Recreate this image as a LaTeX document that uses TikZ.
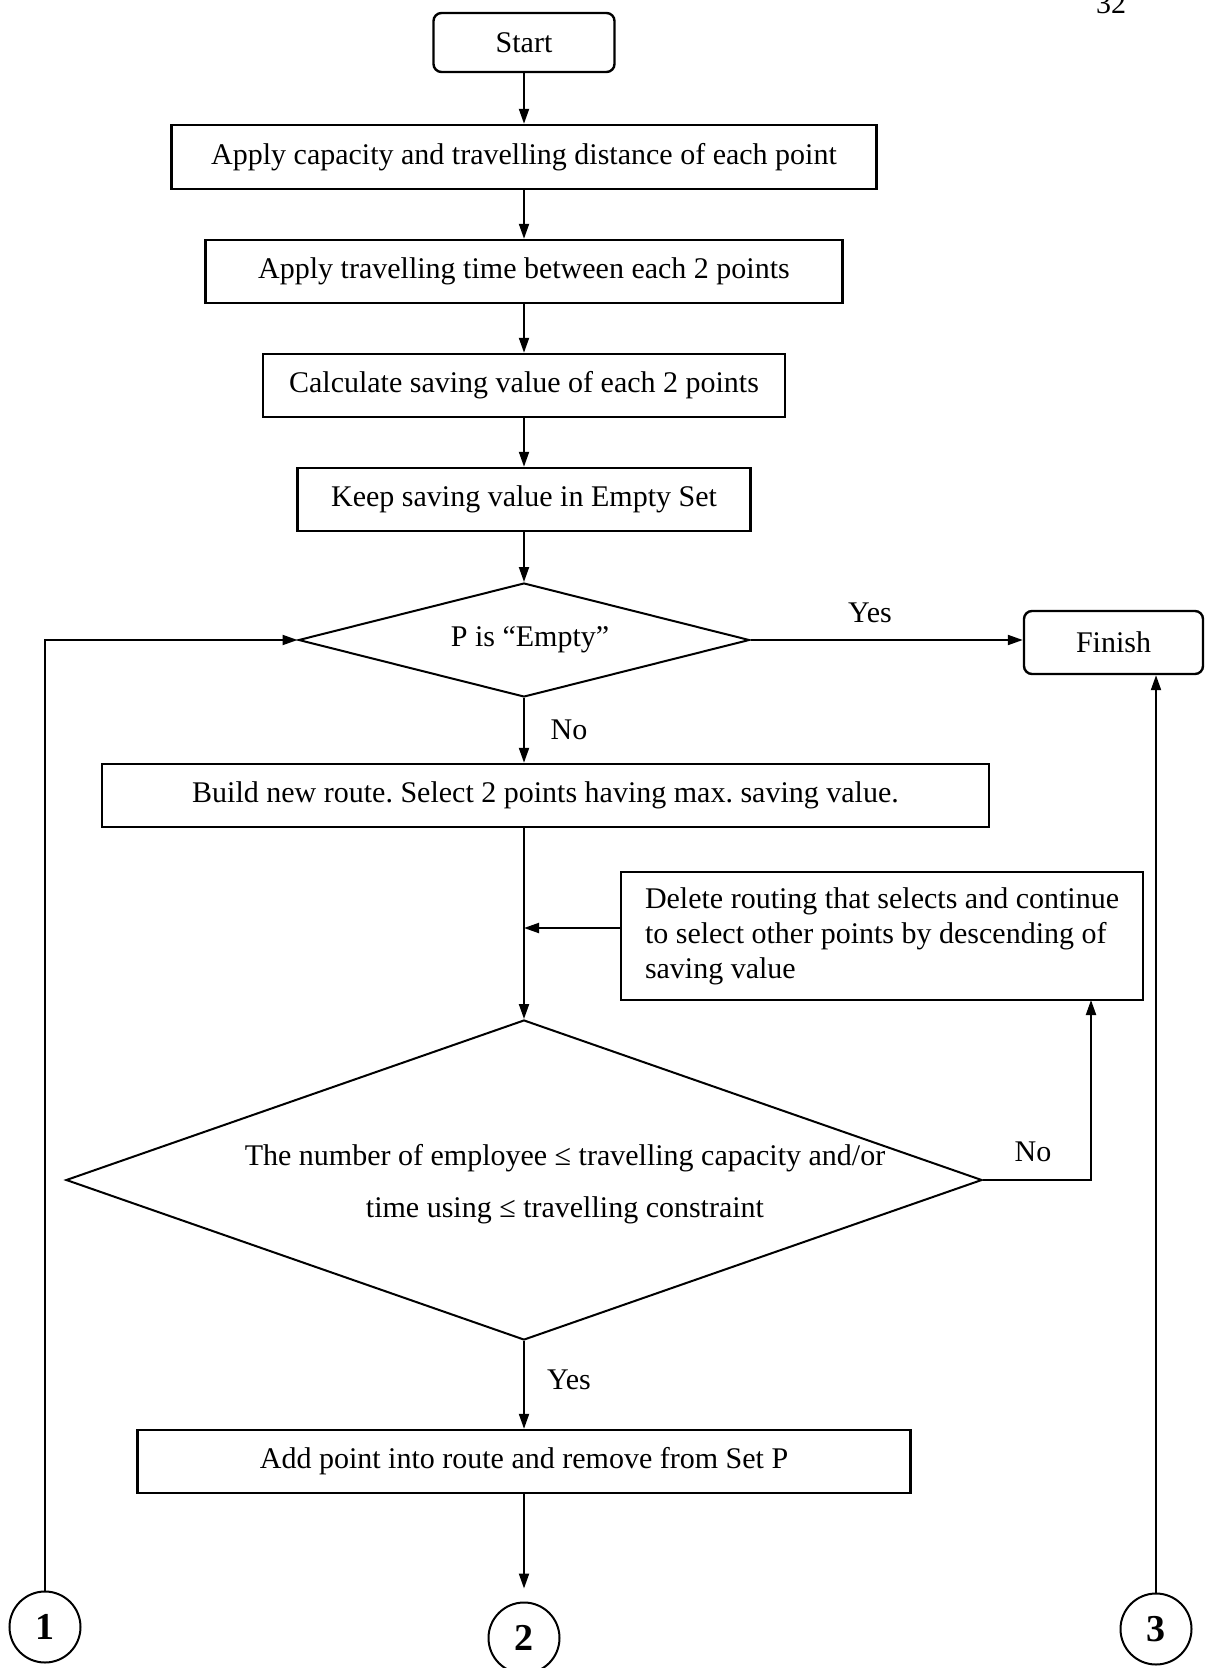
\documentclass[tikz,border=0pt]{standalone}
\usepackage{fontspec}
\setmainfont{Liberation Serif}
\usetikzlibrary{shapes.geometric, arrows.meta}
\tikzstyle{proc} = [draw, rectangle, line width=1.2pt, inner sep=0pt, text centered]
\tikzstyle{term} = [draw, rectangle, rounded corners=4pt, line width=1.2pt, inner sep=0pt]
\tikzstyle{decide} = [draw, diamond, line width=1pt, inner sep=0pt]
\tikzstyle{conn} = [draw, circle, line width=1pt, inner sep=0pt, minimum size=35.5pt, font=\fontsize{19}{20}\selectfont\bfseries]
\tikzstyle{line} = [draw, line width=1pt, -{Triangle[length=7.5pt, width=5pt]}]
\tikzstyle{tag} = []

\begin{document}
\frenchspacing
\begin{tikzpicture}[x=0.5pt, y=-0.5pt, font=\fontsize{15}{17.5}\selectfont]
	\useasboundingbox (0,0) rectangle (1206,1668);
	\node[tag] (pagenum) at (1111,4) {32};
	\node[term, minimum width=90.5pt, minimum height=29.5pt] (start) at (524,42.5) {Start};
	\node[proc, minimum width=352.5pt, minimum height=32pt] (apply1) at (524,157) {Apply capacity and travelling distance of each point};
	\node[proc, minimum width=318.5pt, minimum height=31.5pt] (apply2) at (524,271.5) {Apply travelling time between each 2 points};
	\node[proc, minimum width=261pt, minimum height=31.5pt] (calc) at (524,385.5) {Calculate saving value of each 2 points};
	\node[proc, minimum width=226.5pt, minimum height=31.5pt] (keep) at (524,499.5) {Keep saving value in Empty Set};
	\node[decide, minimum width=225.5pt, minimum height=57pt] (test1) at (524,640) {};
	\node[tag] (test1txt) at (530,640) {P is “Empty”};
	\node[term, minimum width=89.5pt, minimum height=31.5pt] (finish) at (1113.5,642.5) {Finish};
	\node[proc, minimum width=443.5pt, minimum height=31.5pt] (build) at (545.5,795.5) {Build new route. Select 2 points having max. saving value.};
	\node[proc, minimum width=261pt, minimum height=64pt, align=left] (delete) at (882,936) {Delete routing that selects and continue\\to select other points by descending of\\saving value};
	\node[decide, minimum width=458pt, minimum height=160pt] (test2) at (524,1180) {};
	\node[tag, align=center, font=\fontsize{15}{26}\selectfont] (test2txt) at (565,1184) {The number of employee ≤ travelling capacity and/or\\time using ≤ travelling constraint};
	\node[proc, minimum width=386.5pt, minimum height=31.5pt] (add) at (524,1461.5) {Add point into route and remove from Set P};
	\node[conn] (c1) at (45,1627) {1};
	\node[conn] (c2) at (524,1638) {2};
	\node[conn] (c3) at (1156,1629) {3};
	\node[tag] (yes1) at (870,613) {Yes};
	\node[tag] (no1) at (569,730) {No};
	\node[tag] (no2) at (1033,1152) {No};
	\node[tag] (yes2) at (569,1380) {Yes};
	\coordinate (join) at (524,928);
	\coordinate (noturn) at (1091,1000);

	\draw[line] (start) -- (apply1);
	\draw[line] (apply1) -- (apply2);
	\draw[line] (apply2) -- (calc);
	\draw[line] (calc) -- (keep);
	\draw[line] (keep) -- (test1);
	\draw[line] (test1.east) -- (test1.east -| finish.west);
	\draw[line] (test1) -- (test1 |- build.north);
	\draw[line] (build.south -| test2) -- (test2);
	\draw[line] (delete.west |- join) -- (join);
	\draw[line] (test2.east) -| (noturn);
	\draw[line] (test2) -- (add);
	\draw[line] (add) -- ([yshift=6.5pt]c2.north);
	\draw[line] (c1.north) |- (test1.west);
	\draw[line] (c3.north) -- (c3.north |- finish.south);
\end{tikzpicture}
\end{document}
